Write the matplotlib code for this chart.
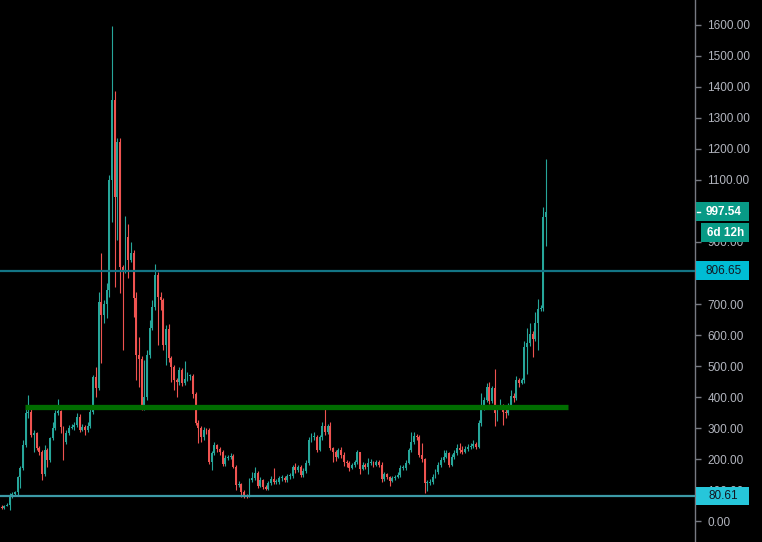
import numpy as np
import matplotlib
matplotlib.use("Agg")
import matplotlib.pyplot as plt
from matplotlib.patches import Rectangle

# candles (price units), open = previous close
first_open = 45
closes = [42, 48, 52, 84, 87, 92, 142, 171, 245, 348, 352,
          277, 284, 236, 223, 152, 229, 197, 268, 300, 348,
          355, 303, 255, 284, 300, 304, 310, 335, 294, 303, 294,
          306, 352, 465, 429, 706, 665, 700, 745, 1100, 1358, 1045,
          1223, 819, 807, 916, 842, 865, 719, 536, 523, 368,
          400, 536, 623, 690, 794, 723, 713, 568, 619, 526,
          497, 455, 448, 487, 445, 458, 468, 468, 410, 316,
          300, 271, 294, 292, 190, 219, 245, 232, 223, 184,
          203, 205, 210, 174, 116, 119, 94, 81, 80, 132,
          139, 155, 113, 132, 110, 103, 123, 135, 126, 127,
          139, 140, 132, 145, 146, 174, 165, 174, 148, 161,
          187, 261, 271, 272, 229, 271, 306, 287, 306, 236,
          223, 206, 229, 213, 190, 187, 171, 181, 190, 223,
          168, 181, 174, 187, 190, 181, 190, 181, 135,
          152, 142, 129, 139, 142, 148, 171, 172,
          187, 229, 255, 274, 271, 213, 200, 123, 124, 126,
          142, 158, 181, 197, 206, 219, 181, 206, 219, 236,
          229, 223, 232, 239, 242, 248, 239, 316, 371,
          390, 432, 387, 429, 348, 368, 371, 352, 348, 374,
          403, 397, 455, 445, 455, 561, 574, 603, 587,
          639, 684, 686, 981, 997.54]
highs = [52, 52, 58, 90, 94, 96, 145, 177, 261, 365, 406,
         365, 294, 287, 242, 229, 245, 236, 271, 319, 358,
         394, 358, 306, 294, 310, 312, 319, 348, 345, 313, 310,
         319, 365, 471, 497, 739, 865, 712, 768, 1116, 1597, 1387,
         1236, 1236, 826, 984, 958, 900, 874, 739, 594, 532,
         519, 552, 648, 713, 829, 803, 739, 719, 632, 636,
         532, 503, 461, 497, 494, 516, 481, 474, 474, 416,
         326, 306, 303, 300, 300, 226, 255, 248, 239, 229,
         213, 213, 219, 216, 181, 129, 123, 100, 87, 139,
         158, 174, 161, 142, 135, 116, 129, 145, 171, 135,
         145, 148, 145, 152, 155, 181, 187, 181, 181, 171,
         197, 271, 284, 287, 277, 277, 319, 365, 313, 319,
         239, 229, 236, 239, 223, 197, 194, 187, 197, 229,
         223, 190, 187, 203, 200, 194, 197, 197, 190,
         158, 155, 145, 145, 148, 158, 181, 181,
         197, 236, 287, 287, 281, 277, 252, 203, 132, 135,
         152, 168, 190, 206, 229, 229, 223, 216, 229, 248,
         252, 242, 242, 248, 252, 261, 255, 326, 413,
         400, 445, 448, 436, 490, 374, 394, 377, 365, 381,
         423, 413, 468, 461, 461, 581, 623, 639, 613,
         674, 716, 697, 1013, 1168]
lows = [39, 40, 48, 35, 74, 83, 84, 106, 165, 239, 332,
        271, 223, 229, 213, 132, 145, 174, 190, 261, 294,
        342, 284, 197, 248, 277, 296, 294, 303, 287, 290, 277,
        287, 300, 345, 400, 423, 510, 640, 655, 723, 965, 755,
        906, 736, 552, 800, 784, 836, 658, 455, 432, 358,
        358, 390, 526, 616, 681, 568, 681, 552, 503, 513,
        448, 423, 400, 439, 436, 439, 452, 455, 397, 310,
        252, 255, 261, 281, 184, 165, 213, 223, 213, 177,
        177, 197, 200, 171, 100, 110, 77, 74, 74, 77,
        126, 132, 106, 110, 103, 100, 100, 116, 119, 119,
        119, 129, 126, 126, 135, 139, 155, 158, 142, 142,
        155, 181, 255, 261, 223, 226, 261, 277, 281, 229,
        190, 194, 203, 203, 177, 174, 161, 168, 174, 184,
        152, 165, 168, 152, 181, 174, 177, 174, 126,
        129, 135, 113, 126, 132, 139, 142, 165,
        165, 184, 223, 248, 261, 206, 190, 90, 97, 116,
        119, 139, 152, 174, 190, 203, 174, 177, 200, 213,
        219, 216, 219, 226, 232, 236, 232, 236, 306,
        358, 384, 377, 381, 306, 323, 361, 310, 332, 342,
        371, 384, 390, 432, 442, 445, 474, 565, 529,
        581, 552, 677, 677, 887]

price_ticks = list(range(0, 1700, 100))
hidden_ticks = [800, 1000]     # covered by the price tags
last_price = 997.54
countdown = "6d 12h"
resistance = 806.65
support = 80.61
green_level = 368
green_span = (8.7, 210.0)

UP = "#26a69a"
DOWN = "#ef5350"
BG = "#000000"

c = np.array(closes, dtype=float)
o = np.array([first_open] + closes[:-1], dtype=float)
h = np.array(highs, dtype=float)
l = np.array(lows, dtype=float)
x = np.arange(len(c))
cols = np.where(c >= o, UP, DOWN)

fig = plt.figure(figsize=(7.62, 5.42), dpi=100, facecolor=BG)
ax = fig.add_axes([0, 0, 695 / 762, 1])
ax.set_facecolor(BG)
ylo, yhi = -67.7, 1680.6
ax.set_ylim(ylo, yhi)
step = 544.5 / (len(c) - 1)
ax.set_xlim(-1.5 / step, 693.5 / step)

ax.vlines(x, l, h, colors=cols, linewidth=0.8, zorder=2)
ax.bar(x, np.maximum(np.abs(c - o), 3), bottom=np.minimum(o, c), width=0.72,
       color=cols, linewidth=0, zorder=2)

ax.axhline(resistance, color="#137585", lw=1.6, zorder=3)
ax.axhline(support, color="#3c9aa6", lw=1.6, zorder=3)
ax.hlines(green_level, green_span[0], green_span[1], color="#006d00", lw=3.8, zorder=3)

for s in ["top", "left", "bottom"]:
    ax.spines[s].set_visible(False)
ax.spines["right"].set_color("#777a82")
ax.spines["right"].set_linewidth(1)
ax.set_xticks([])
ax.yaxis.tick_right()
ax.set_yticks(price_ticks)
ax.set_yticklabels(["" if v in hidden_ticks else f"{v:.2f}" for v in price_ticks],
                   family="Liberation Sans")
ax.tick_params(axis="y", colors="#b2b5be", length=4, width=1, pad=5, labelsize=8.5)
ax.tick_params(axis="y", color="#777a82")

# price scale tags
ax2 = fig.add_axes([695 / 762, 0, 67 / 762, 1])
ax2.set_xlim(0, 67)
ax2.set_ylim(ylo, yhi)
ax2.axis("off")
ax2.patch.set_alpha(0)


def tag(y, text, face, fg, x0=1, w=53, bold=False):
    hh = 61
    ax2.add_patch(Rectangle((x0, y - hh / 2), w, hh, facecolor=face, edgecolor="none"))
    ax2.text(x0 + w / 2 + 1, y, text, color=fg, ha="center", va="center",
             fontsize=8.5, family="Liberation Sans",
             fontweight="bold" if bold else "normal")


tag(last_price, f"{last_price:.2f}", "#089a86", "white", bold=True)
ax2.plot([1.5, 4.5], [last_price, last_price], color="white", lw=1)
tag(930, countdown, "#089a86", "white", x0=6, w=48, bold=True)
tag(resistance, f"{resistance:.2f}", "#00bcd4", "#131722")
tag(support, f"{support:.2f}", "#26c6da", "#131722")

fig.savefig("out.png", dpi=100, facecolor=BG)
